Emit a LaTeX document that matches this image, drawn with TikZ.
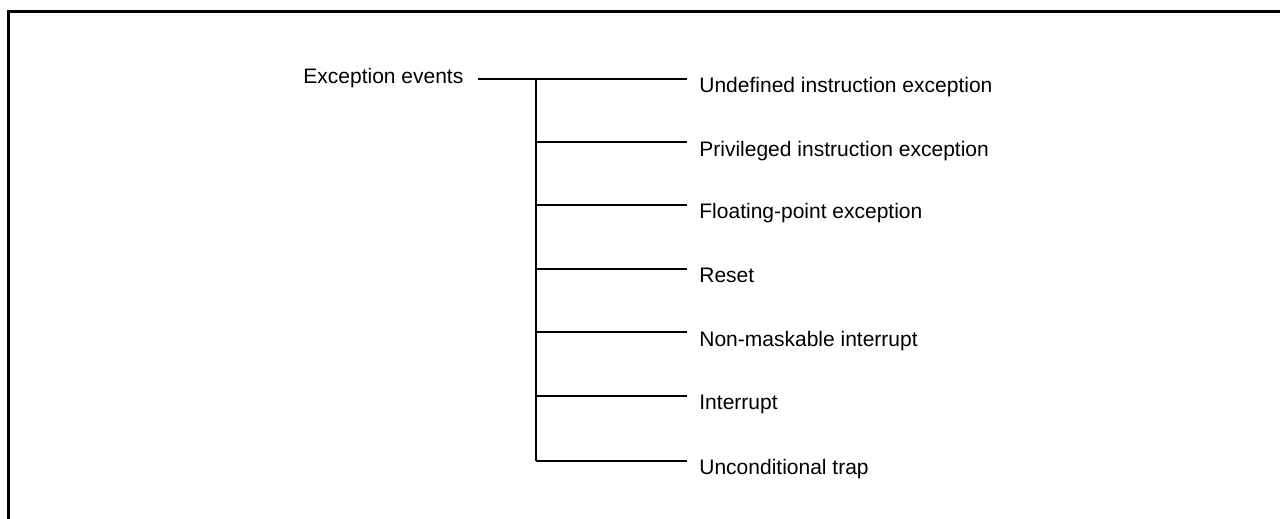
\documentclass[tikz,border=0pt]{standalone}
\usepackage{fontspec}
\setmainfont{Liberation Sans}
\begin{document}
\begin{tikzpicture}[x=0.5pt,y=-0.5pt,
  lbl/.style={inner sep=0pt,anchor=base west,font=\fontsize{10.5}{12.5}\selectfont},
  wire/.style={line width=1pt},
  frame/.style={line width=1.5pt}]
\useasboundingbox (0,0) rectangle (1280,519);
\draw[frame] (8.5,519) -- (8.5,11.5) -- (1280,11.5);
\node[lbl] (root) at (303,84) {Exception events};
\coordinate (j0) at (536,79);
\foreach \i/\y/\t in {1/79/Undefined instruction exception,
                      2/142/Privileged instruction exception,
                      3/205/Floating-point exception,
                      4/268.5/Reset,
                      5/332/Non-maskable interrupt,
                      6/395.5/Interrupt,
                      7/460.5/Unconditional trap}{
  \coordinate (j\i) at (536,\y);
  \node[lbl] (l\i) at (699,\y+14) {\t};
  \draw[wire] (j\i) -- ([xshift=-6pt]l\i.west |- j\i);
}
\draw[wire] ([xshift=7pt]root.east |- j0) -- (j0);
\draw[wire] (j1) -- (j7);
\end{tikzpicture}
\end{document}
